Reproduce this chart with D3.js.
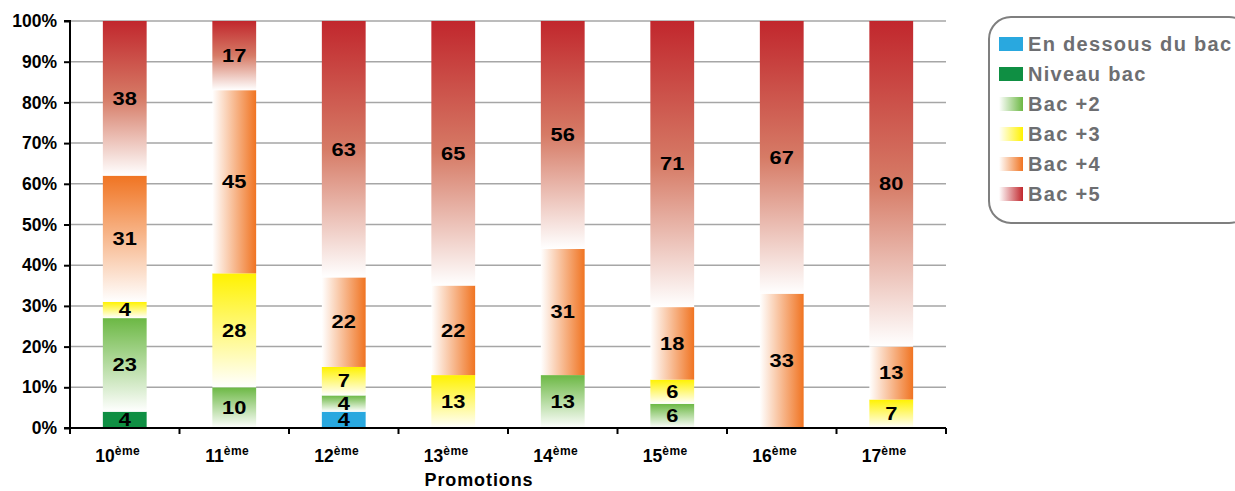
<!DOCTYPE html>
<html><head><meta charset="utf-8">
<script src="https://cdn.jsdelivr.net/npm/d3@7"></script>
<style>body{margin:0;background:#fff;}svg{display:block;font-family:"Liberation Sans",Arial,sans-serif;}</style>
</head><body><svg id="c" width="1235" height="491"></svg>
<script>
const categories = ["10", "11", "12", "13", "14", "15", "16", "17"];
const seriesNames = ["En dessous du bac", "Niveau bac", "Bac +2", "Bac +3", "Bac +4", "Bac +5"];
const enDessous = [0, 0, 4, 0, 0, 0, 0, 0];
const niveauBac = [4, 0, 0, 0, 0, 0, 0, 0];
const bac2 = [23, 10, 4, 0, 13, 6, 0, 0];
const bac3 = [4, 28, 7, 13, 0, 6, 0, 7];
const bac4 = [31, 45, 22, 22, 31, 18, 33, 13];
const bac5 = [38, 17, 63, 65, 56, 71, 67, 80];
const yTicks = [0, 10, 20, 30, 40, 50, 60, 70, 80, 90, 100];
const seriesValues = [enDessous, niveauBac, bac2, bac3, bac4, bac5];

const svg = d3.select("#c");
const pLeft = 70, pRight = 946, pTop = 21, pBottom = 428;
const x = d3.scaleBand().domain(categories).range([pLeft, pRight]).paddingInner(0.6).paddingOuter(0.3);
const xOuter = d3.scaleBand().domain(categories).range([pLeft, pRight]);
const y = d3.scaleLinear().domain([0, 100]).range([pBottom, pTop]);

const colors = ["#29a8df", "#0f8f43", "#6cb844", "#fff200", "#f07422", "#c1272d"];
const defs = svg.append("defs");
function grad(id, color, dir) {
  const g = defs.append("linearGradient").attr("id", id)
    .attr("x1", 0).attr("y1", 0)
    .attr("x2", dir === "h" ? 1 : 0).attr("y2", dir === "h" ? 0 : 1);
  if (dir === "h") {
    g.append("stop").attr("offset", 0).attr("stop-color", "#ffffff");
    g.append("stop").attr("offset", 1).attr("stop-color", color);
  } else {
    g.append("stop").attr("offset", 0).attr("stop-color", color);
    g.append("stop").attr("offset", 1).attr("stop-color", "#ffffff");
  }
}
grad("g2v", colors[2], "v");
grad("g3v", colors[3], "v");
grad("g4v", colors[4], "v");
const r5 = defs.append("linearGradient").attr("id", "g5v").attr("x1", 0).attr("y1", 0).attr("x2", 0).attr("y2", 1);
r5.append("stop").attr("offset", 0).attr("stop-color", "#c1272d");
r5.append("stop").attr("offset", 0.5).attr("stop-color", "#d67b66");
r5.append("stop").attr("offset", 1).attr("stop-color", "#ffffff");
grad("g4h", colors[4], "h");
grad("l2", colors[2], "h");
grad("l3", colors[3], "h");
grad("l4", colors[4], "h");
grad("l5", colors[5], "h");

function fillFor(s, i) {
  if (s === 0) return colors[0];
  if (s === 1) return colors[1];
  if (s === 2) return "url(#g2v)";
  if (s === 3) return "url(#g3v)";
  if (s === 4) return i === 0 ? "url(#g4v)" : "url(#g4h)";
  return "url(#g5v)";
}

svg.append("g").selectAll("line").data(yTicks.filter(t => t > 0)).join("line")
  .attr("x1", pLeft).attr("x2", pRight).attr("y1", d => y(d)).attr("y2", d => y(d))
  .attr("stroke", "#a6a6a6").attr("stroke-width", 1.5);

const table = categories.map((c, i) => {
  const o = { cat: c };
  seriesNames.forEach((s, k) => o[s] = seriesValues[k][i]);
  return o;
});
// 100% stacked: normalise each column to its total
const stacked = d3.stack().keys(seriesNames).offset(d3.stackOffsetExpand)(table);

const gBars = svg.append("g");
stacked.forEach((layer, s) => {
  layer.forEach((d, i) => {
    if (d[1] - d[0] <= 0) return;
    gBars.append("rect")
      .attr("x", x(categories[i])).attr("width", x.bandwidth())
      .attr("y", y(d[1] * 100)).attr("height", y(d[0] * 100) - y(d[1] * 100))
      .attr("fill", fillFor(s, i));
  });
});
stacked.forEach((layer, s) => {
  layer.forEach((d, i) => {
    const v = seriesValues[s][i];
    if (v <= 0) return;
    const cx = x(categories[i]) + x.bandwidth() / 2;
    const cy = y((d[0] + d[1]) * 50) + 6.3;
    svg.append("text")
      .attr("transform", `translate(${cx},${cy}) scale(1.25,1)`)
      .attr("text-anchor", "middle")
      .attr("font-size", 17.5).attr("font-weight", "bold").attr("fill", "#000")
      .text(v);
  });
});

const yAxis = d3.axisLeft(y).tickValues(yTicks).tickFormat(d => d + "%").tickSize(6).tickPadding(6);
const ya = svg.append("g").attr("transform", `translate(${pLeft},0)`).call(yAxis);
ya.select(".domain").attr("stroke", "#000").attr("stroke-width", 2).attr("d", `M-6,${pTop}H0V${pBottom}H-6`);
ya.selectAll(".tick line").attr("stroke", "#000").attr("stroke-width", 2);
ya.selectAll(".tick text").attr("font-size", 17.5).attr("font-weight", "bold").attr("fill", "#000")
  .attr("font-family", "Liberation Sans, Arial, sans-serif").attr("x", -13);

svg.append("line").attr("x1", pLeft).attr("x2", pRight).attr("y1", pBottom).attr("y2", pBottom)
  .attr("stroke", "#000").attr("stroke-width", 2);
const bounds = categories.map(c => xOuter(c)).concat([pRight]);
svg.append("g").selectAll("line").data(bounds).join("line")
  .attr("x1", d => d).attr("x2", d => d).attr("y1", pBottom).attr("y2", pBottom + 6)
  .attr("stroke", "#000").attr("stroke-width", 2);
const xl = svg.append("g").selectAll("text").data(categories).join("text")
  .attr("x", d => xOuter(d) + xOuter.bandwidth() / 2 - 7)
  .attr("y", 462)
  .attr("text-anchor", "middle")
  .attr("font-weight", "bold").attr("fill", "#000");
xl.append("tspan").attr("font-size", 17.5).text(d => d);
xl.append("tspan").attr("font-size", 12).attr("dy", -7).attr("letter-spacing", 0.5).text("ème");

svg.append("text").attr("x", 479).attr("y", 486).attr("text-anchor", "middle")
  .attr("font-size", 18).attr("font-weight", "bold").attr("fill", "#000").attr("letter-spacing", 0.9)
  .text("Promotions");

svg.append("rect").attr("x", 989).attr("y", 17).attr("width", 262).attr("height", 206)
  .attr("rx", 22).attr("ry", 22).attr("fill", "#fff").attr("stroke", "#7f7f7f").attr("stroke-width", 2);
const legFill = [colors[0], colors[1], "url(#l2)", "url(#l3)", "url(#l4)", "url(#l5)"];
const lg = svg.append("g").selectAll("g").data(seriesNames).join("g")
  .attr("transform", (d, i) => `translate(999,${44 + i * 30})`);
lg.append("rect").attr("x", 0).attr("y", -7).attr("width", 24).attr("height", 14)
  .attr("fill", (d, i) => legFill[i]);
lg.append("text").attr("x", 29).attr("y", 7)
  .attr("font-size", 20).attr("font-weight", "bold").attr("fill", "#6d6e71").attr("letter-spacing", 1.3)
  .text(d => d);
</script></body></html>
